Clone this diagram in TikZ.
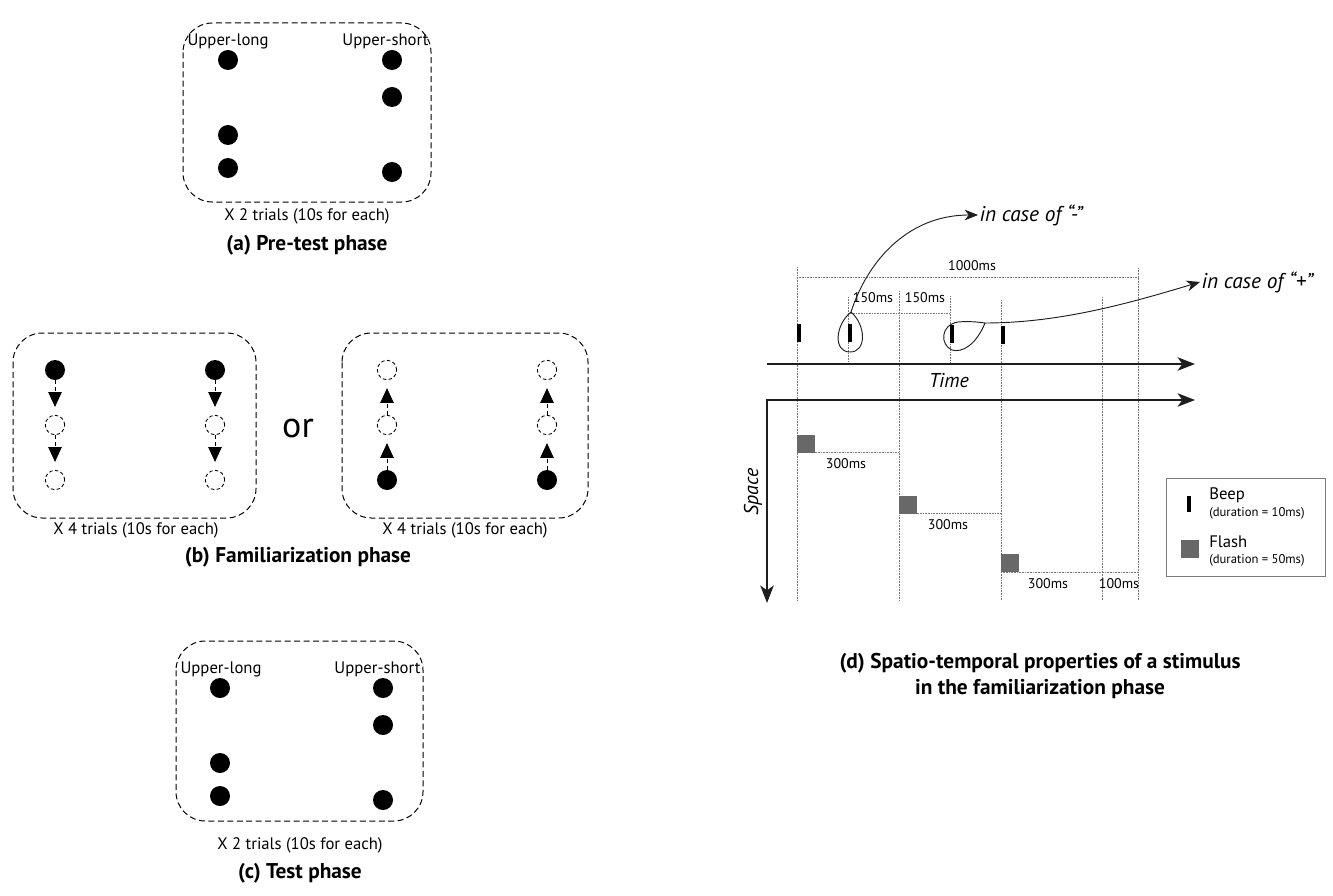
\documentclass[tikz,border=0pt]{standalone}
\usepackage{fontspec}
\setmainfont{PT Sans}
\usetikzlibrary{arrows.meta}

\definecolor{flashgray}{HTML}{686868}
\definecolor{guidegray}{HTML}{7A7A7A}
\definecolor{axisblack}{HTML}{1E1E1E}

% one unit = one pixel of a 1333 x 895 canvas, y pointing down
\tikzset{
  phasebox/.style={draw, dash pattern=on 4.5pt off 2.6pt, line width=0.75pt, rounded corners=22pt},
  dot/.style={circle, fill=black, inner sep=0pt, minimum size=15pt},
  ghost/.style={circle, draw, dash pattern=on 2.6pt off 1.8pt, line width=0.65pt, inner sep=0pt, minimum size=14.5pt},
  lab/.style={font=\fontsize{12.5}{14}\selectfont, inner sep=1pt},
  trials/.style={font=\fontsize{12.5}{14}\selectfont},
  caption/.style={font=\bfseries\fontsize{16}{19}\selectfont, align=center},
  move/.style={dash pattern=on 3pt off 2pt, line width=0.6pt,
    -{Triangle[length=11pt,width=10pt]}, shorten >=6pt},
  axis/.style={line width=1.8pt, draw=axisblack,
    >={Stealth[length=13pt,width=10pt,inset=3.5pt]}},
  guide/.style={dash pattern=on 0.6pt off 0.6pt, draw=guidegray, line width=0.6pt},
  beep/.style={fill=black, inner sep=0pt, minimum width=3pt, minimum height=14pt},
  flash/.style={fill=flashgray, inner sep=0pt, minimum size=13.5pt},
  ms/.style={font=\fontsize{10.5}{12}\selectfont, inner sep=1pt},
  loopline/.style={line width=0.7pt, draw=axisblack,
    -{Stealth[length=10pt,width=8pt,inset=3pt]}},
  casetext/.style={font=\itshape\fontsize{16}{18}\selectfont, inner sep=1pt, anchor=west},
  axislabel/.style={font=\itshape\fontsize{15}{17}\selectfont},
}

\begin{document}
\begin{tikzpicture}[x=0.75pt,y=-0.75pt]
\useasboundingbox (0,0) rectangle (1333,895);

% ---------------- (a) Pre-test phase ----------------
\draw[phasebox] (183,23) rectangle (431,202);
\node[lab, anchor=west] (aUL) at (186,41) {Upper-long};
\node[lab, anchor=east] (aUS) at (430,41) {Upper-short};
\node[dot] (aL1) at (228,60) {};
\node[dot] (aL2) at (228,135) {};
\node[dot] (aL3) at (228,168) {};
\node[dot] (aS1) at (392,60) {};
\node[dot] (aS2) at (392,97) {};
\node[dot] (aS3) at (392,172) {};
\node[trials] (aTr) at (307,216) {X 2 trials (10s for each)};
\node[caption] (aCap) at (307,245) {(a) Pre-test phase};

% ---------------- (b) Familiarization phase ----------------
\draw[phasebox] (13,333) rectangle (256,518);
\node[dot]   (bA1) at (55,370) {};
\node[ghost] (bA2) at (55,425) {};
\node[ghost] (bA3) at (55,480) {};
\node[dot]   (bB1) at (215,370) {};
\node[ghost] (bB2) at (215,425) {};
\node[ghost] (bB3) at (215,480) {};
\draw[move] (bA1) -- (bA2);
\draw[move] (bA2) -- (bA3);
\draw[move] (bB1) -- (bB2);
\draw[move] (bB2) -- (bB3);
\node[trials] (bTr1) at (136,530) {X 4 trials (10s for each)};

\node[font=\fontsize{27}{30}\selectfont] (bOr) at (298,428) {or};

\draw[phasebox] (342,333) rectangle (588,518);
\node[ghost] (bC1) at (387,370) {};
\node[ghost] (bC2) at (387,425) {};
\node[dot]   (bC3) at (387,480) {};
\node[ghost] (bD1) at (547,370) {};
\node[ghost] (bD2) at (547,425) {};
\node[dot]   (bD3) at (547,480) {};
\draw[move] (bC3) -- (bC2);
\draw[move] (bC2) -- (bC1);
\draw[move] (bD3) -- (bD2);
\draw[move] (bD2) -- (bD1);
\node[trials] (bTr2) at (465,530) {X 4 trials (10s for each)};

\node[caption] (bCap) at (298,557) {(b) Familiarization phase};

% ---------------- (c) Test phase ----------------
\draw[phasebox] (176,641) rectangle (423,821);
\node[lab, anchor=west] (cUL) at (179,669) {Upper-long};
\node[lab, anchor=east] (cUS) at (422,669) {Upper-short};
\node[dot] (cL1) at (220,688) {};
\node[dot] (cL2) at (220,763) {};
\node[dot] (cL3) at (220,796) {};
\node[dot] (cS1) at (383,688) {};
\node[dot] (cS2) at (383,725) {};
\node[dot] (cS3) at (383,800) {};
\node[trials] (cTr) at (300,845) {X 2 trials (10s for each)};
\node[caption] (cCap) at (300,873) {(c) Test phase};

% ---------------- (d) Spatio-temporal properties ----------------
% dotted time guides
\draw[guide] (797,267) -- (797,600);
\draw[guide] (848,297) -- (848,364);
\draw[guide] (899,291) -- (899,600);
\draw[guide] (950,296) -- (950,364);
\draw[guide] (1001,300) -- (1001,600);
\draw[guide] (1102,297) -- (1102,600);
\draw[guide] (1138,268) -- (1138,600);
\draw[guide] (797,277) -- (1138,277);
\draw[guide] (848,313) -- (950,313);
\draw[guide] (797,452) -- (899,452);
\draw[guide] (899,513) -- (1001,513);
\draw[guide] (1001,572) -- (1138,572);

% interval labels
\node[ms] (m1000) at (972,266) {1000ms};
\node[ms] (m150a) at (873,298) {150ms};
\node[ms] (m150b) at (925,298) {150ms};
\node[ms] (m300a) at (846,464) {300ms};
\node[ms] (m300b) at (948,525) {300ms};
\node[ms] (m300c) at (1048,584) {300ms};
\node[ms] (m100)  at (1119,584) {100ms};

% axes
\coordinate (tStart) at (767,364);
\coordinate (tEnd) at (1195,364);
\coordinate (sCorner) at (767,400);
\coordinate (sRight) at (1195,400);
\coordinate (sDown) at (767,603);
\draw[axis,->] (tStart) -- (tEnd);
\draw[axis,<->] (sDown) -- (sCorner) -- (sRight);
\node[axislabel] (tLab) at (949,381) {Time};
\node[axislabel, rotate=90] (sLab) at (753,492) {Space};

% beeps
\node[beep] (beep1) at (799,333) {};
\node[beep] (beep2) at (850,333) {};
\node[beep] (beep3) at (952,334) {};
\node[beep] (beep4) at (1003,335) {};

% flashes
\node[flash, anchor=north west] (flash1) at (797,435) {};
\node[flash, anchor=north west] (flash2) at (899,496) {};
\node[flash, anchor=north west] (flash3) at (1001,554) {};

% the two alternative beep placements
\node[casetext] (caseMinus) at (978,215) {in case of “-”};
\node[casetext] (casePlus) at (1200,282) {in case of “+”};
\draw[loopline] (851,312) .. controls (835,325) and (833,352) .. (850,352)
  .. controls (867,352) and (866,325) .. (851,312)
  .. controls (866,265) and (905,215) .. (caseMinus.west);
\draw[loopline] (985,323) .. controls (976,345) and (962,353) .. (952,350)
  .. controls (940,345) and (940,325) .. (958,322)
  .. controls (968,321) and (978,322) .. (985,323)
  .. controls (1060,323) and (1130,303) .. (casePlus.west);

% legend
\draw[draw=guidegray, line width=0.6pt] (1166,478) rectangle (1325,576);
\node[beep, minimum height=12pt] (legBeep) at (1189,504) {};
\node[font=\fontsize{12.5}{14}\selectfont, anchor=west, inner sep=0pt] (legBeepT) at (1209,495) {Beep};
\node[font=\fontsize{9.5}{11}\selectfont, anchor=west, inner sep=0pt] (legBeepD) at (1209,513) {(duration = 10ms)};
\node[flash] (legFlash) at (1190,549) {};
\node[font=\fontsize{12.5}{14}\selectfont, anchor=west, inner sep=0pt] (legFlashT) at (1209,542) {Flash};
\node[font=\fontsize{9.5}{11}\selectfont, anchor=west, inner sep=0pt] (legFlashD) at (1209,560) {(duration = 50ms)};

\node[caption] (dCap) at (1040,676) {(d) Spatio-temporal properties of a stimulus\\in the familiarization phase};
\end{tikzpicture}
\end{document}
